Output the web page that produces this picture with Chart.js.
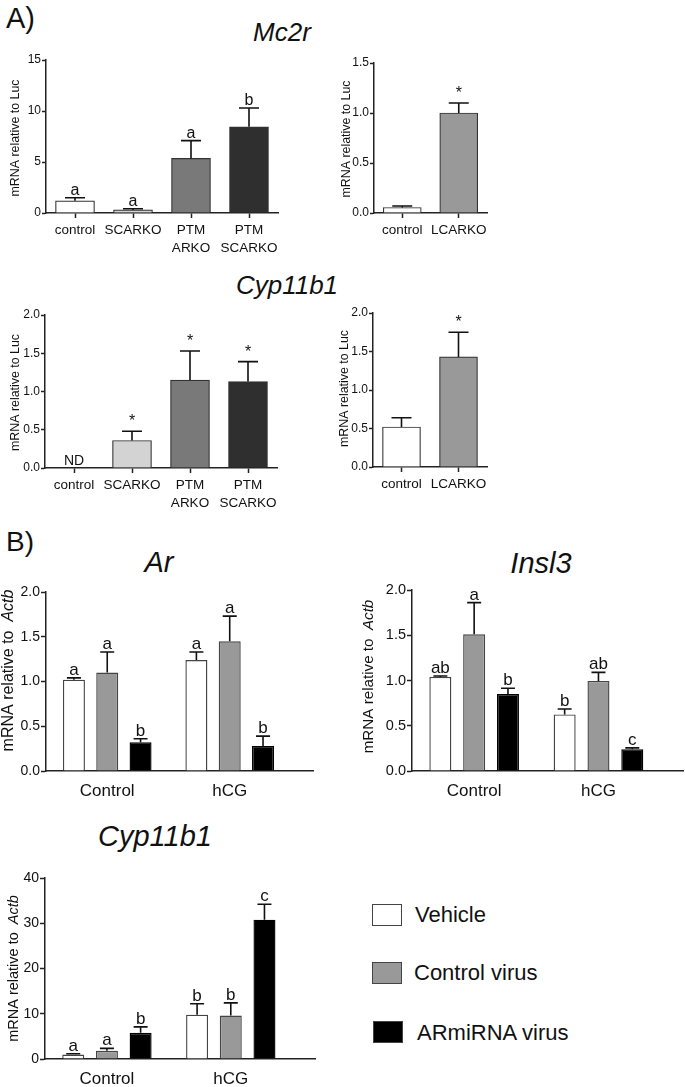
<!DOCTYPE html>
<html>
<head>
<meta charset="utf-8">
<script src="https://cdn.jsdelivr.net/npm/chart.js@4.4.1/dist/chart.umd.min.js"></script>
<style>
  body { margin: 0; background: #fff; width: 685px; height: 1087px; position: relative; overflow: hidden;
         font-family: "Liberation Sans", Arial, sans-serif; color: #111; }
  .box { position: absolute; }
  .t { position: absolute; line-height: 1; white-space: nowrap; }
  .it { font-style: italic; }
  .c { transform: translateX(-50%); }
  .sw { position: absolute; width: 28px; height: 20px; border: 1.5px solid #444; }
</style>
</head>
<body>
<div class="t" style="left:6px;top:4px;font-size:29px;">A)</div>
<div class="t it c" style="left:282px;top:19px;font-size:26px;">Mc2r</div>
<div class="t it c" style="left:287px;top:272px;font-size:26px;">Cyp11b1</div>
<div class="t" style="left:6px;top:528px;font-size:28px;">B)</div>
<div class="t it c" style="left:159px;top:548px;font-size:29px;">Ar</div>
<div class="t it c" style="left:541px;top:549px;font-size:29px;">Insl3</div>
<div class="t it c" style="left:155px;top:822px;font-size:29px;">Cyp11b1</div>

<div class="box" style="left:0;top:45px;width:290px;height:213px;"><canvas id="mc2r"></canvas></div>
<div class="box" style="left:330px;top:48px;width:167px;height:210px;"><canvas id="mc2rLc"></canvas></div>
<div class="box" style="left:0;top:300px;width:289px;height:213px;"><canvas id="cypA"></canvas></div>
<div class="box" style="left:330px;top:298px;width:167px;height:214px;"><canvas id="cypALc"></canvas></div>
<div class="box" style="left:0;top:577px;width:323px;height:229px;"><canvas id="ar"></canvas></div>
<div class="box" style="left:340px;top:575px;width:345px;height:231px;"><canvas id="insl3"></canvas></div>
<div class="box" style="left:0;top:863px;width:325px;height:224px;"><canvas id="cypB"></canvas></div>

<div class="sw" style="left:372px;top:904px;background:#fff;"></div>
<div class="t" style="left:415px;top:904px;font-size:22px;">Vehicle</div>
<div class="sw" style="left:372px;top:962px;background:#999;"></div>
<div class="t" style="left:414px;top:962px;font-size:22px;">Control virus</div>
<div class="sw" style="left:373px;top:1021px;background:#000;"></div>
<div class="t" style="left:417px;top:1022px;font-size:22px;">ARmiRNA virus</div>

<script>
// ---- Panel A data ----
const koCats = ['control', 'SCARKO', ['PTM', 'ARKO'], ['PTM', 'SCARKO']];
const lcCats = ['control', 'LCARKO'];

const mc2rMeans = [1.2, 0.3, 5.35, 8.45];
const mc2rErr = [1.5, 0.42, 7.1, 10.3];
const mc2rSig = ['a', 'a', 'a', 'b'];
const mc2rColors = ['#ffffff', '#d4d4d4', '#797979', '#2f2f2f'];

const mc2rLcMeans = [0.055, 1.0];
const mc2rLcErr = [0.07, 1.1];
const mc2rLcSig = ['', '*'];

const cypAMeans = [null, 0.36, 1.15, 1.13];
const cypAErr = [null, 0.48, 1.53, 1.39];
const cypASig = ['ND', '*', '*', '*'];

const cypALcMeans = [0.52, 1.43];
const cypALcErr = [0.64, 1.75];
const cypALcSig = ['', '*'];
const lcColors = ['#ffffff', '#999999'];

// ---- Panel B data (rows: Vehicle, Control virus, ARmiRNA virus; cols: Control, hCG) ----
const groups = ['Control', 'hCG'];
const treatments = ['Vehicle', 'Control virus', 'ARmiRNA virus'];
const treatColors = ['#ffffff', '#999999', '#000000'];

const arMeans = [[1.02, 1.24], [1.10, 1.45], [0.32, 0.28]];
const arErr = [[1.04, 1.33], [1.33, 1.73], [0.36, 0.39]];
const arSig = [['a', 'a'], ['a', 'a'], ['b', 'b']];

const insl3Means = [[1.04, 0.625], [1.51, 0.995], [0.85, 0.24]];
const insl3Err = [[1.05, 0.685], [1.86, 1.09], [0.915, 0.255]];
const insl3Sig = [['ab', 'b'], ['a', 'ab'], ['b', 'c']];

const cypBMeans = [[1.0, 9.8], [1.8, 9.6], [5.8, 30.8]];
const cypBErr = [[1.15, 12.2], [2.35, 12.4], [7.1, 34.2]];
const cypBSig = [['a', 'b'], ['a', 'b'], ['b', 'c']];

const FONT = '"Liberation Sans", Arial, sans-serif';
Chart.defaults.font.family = FONT;
Chart.defaults.color = '#111';
Chart.defaults.animation = false;

// error bars (upper only) and significance letters
const barNotes = {
  id: 'barNotes',
  afterDatasetsDraw(chart, args, opts) {
    const ctx = chart.ctx, ys = chart.scales.y;
    chart.data.datasets.forEach((ds, di) => {
      const meta = chart.getDatasetMeta(di);
      meta.data.forEach((bar, i) => {
        const raw = ds.data[i];
        const mean = raw && typeof raw === 'object' ? raw.y : raw;
        const err = ds.err[i];
        const cx = bar.x;
        let top = ys.getPixelForValue(mean == null ? 0 : mean);
        ctx.save();
        if (err != null) {
          const ey = ys.getPixelForValue(err);
          ctx.strokeStyle = '#111';
          ctx.lineWidth = opts.lw;
          ctx.beginPath();
          ctx.moveTo(cx, top);
          ctx.lineTo(cx, ey);
          ctx.moveTo(cx - opts.cap / 2, ey);
          ctx.lineTo(cx + opts.cap / 2, ey);
          ctx.stroke();
          top = ey;
        }
        const s = ds.sig[i];
        if (s) {
          ctx.fillStyle = '#111';
          ctx.textAlign = 'center';
          ctx.textBaseline = 'alphabetic';
          ctx.font = (s === 'ND' ? opts.ndSize : opts.size) + 'px ' + FONT;
          const off = s === '*' ? 5 : 3;
          ctx.fillText(s, cx, top - off);
        }
        ctx.restore();
      });
    });
  }
};

// rotated y title with optional italic part
const yTitle = {
  id: 'yTitle',
  afterDraw(chart, args, opts) {
    const ctx = chart.ctx, a = chart.chartArea;
    ctx.save();
    ctx.fillStyle = '#111';
    ctx.textBaseline = 'middle';
    ctx.textAlign = 'left';
    let total = 0;
    const widths = opts.parts.map(p => {
      ctx.font = (p.italic ? 'italic ' : '') + opts.size + 'px ' + FONT;
      const w = ctx.measureText(p.text).width;
      total += w;
      return w;
    });
    ctx.translate(opts.x, (a.top + a.bottom) / 2 + (opts.dy || 0));
    ctx.rotate(-Math.PI / 2);
    let x = -total / 2;
    opts.parts.forEach((p, i) => {
      ctx.font = (p.italic ? 'italic ' : '') + opts.size + 'px ' + FONT;
      ctx.fillText(p.text, x, 0);
      x += widths[i];
    });
    ctx.restore();
  }
};

function yAxis(max, step, dec, size, width, tickLen) {
  return {
    min: 0, max: max,
    afterFit: s => { s.width = width; },
    border: { color: '#222', width: 1.5 },
    grid: { drawOnChartArea: false, drawTicks: true, tickLength: tickLen, tickColor: '#222', tickWidth: 1.5 },
    ticks: { stepSize: step, padding: 1, font: { size: size }, color: '#111',
             callback: v => v.toFixed(dec) }
  };
}

function koChart(id, cats, means, errs, sigs, colors, max, step, dec, o) {
  return new Chart(document.getElementById(id), {
    type: 'bar',
    data: {
      labels: cats,
      datasets: [{ data: means, err: errs, sig: sigs, backgroundColor: colors,
                   borderColor: '#333', borderWidth: 1.2, barThickness: o.bw }]
    },
    options: {
      responsive: true, maintainAspectRatio: false,
      layout: { padding: { top: 15, right: o.right, left: 0, bottom: 0 } },
      plugins: {
        legend: { display: false }, tooltip: { enabled: false },
        barNotes: { lw: 1.6, cap: o.cap, size: 16, ndSize: 14 },
        yTitle: { parts: [{ text: 'mRNA relative to Luc' }], size: 12.4, x: o.tx, dy: o.dy }
      },
      scales: {
        x: {
          afterFit: s => { s.height = 45; },
          border: { color: '#222', width: 1.5 },
          grid: { offset: false, drawOnChartArea: false, drawTicks: true, tickLength: 5, tickColor: '#222', tickWidth: 1.5 },
          ticks: { padding: 3, font: { size: 13.5, lineHeight: 1.35 }, color: '#111', maxRotation: 0, autoSkip: false }
        },
        y: yAxis(max, step, dec, 12, o.yw, 4)
      }
    },
    plugins: [barNotes, yTitle]
  });
}

const OFFS = [-0.272, 0, 0.272];

function groupChart(id, means, errs, sigs, max, step, dec, o) {
  return new Chart(document.getElementById(id), {
    type: 'bar',
    data: {
      datasets: treatments.map((t, ti) => ({
        label: t,
        data: groups.map((g, gi) => ({ x: gi + 1 + OFFS[ti], y: means[ti][gi] })),
        err: errs[ti], sig: sigs[ti],
        backgroundColor: treatColors[ti],
        borderColor: ti === 2 ? '#000' : '#444', borderWidth: 1.4,
        maxBarThickness: 22
      }))
    },
    options: {
      responsive: true, maintainAspectRatio: false,
      grouped: false,
      layout: { padding: { top: 15, right: o.right, left: 0, bottom: 0 } },
      plugins: {
        legend: { display: false }, tooltip: { enabled: false },
        barNotes: { lw: 1.6, cap: 14, size: 17, ndSize: 14 },
        yTitle: { parts: [{ text: 'mRNA relative to  ' }, { text: 'Actb', italic: true }],
                  size: o.ts, x: o.tx, dy: o.dy }
      },
      scales: {
        x: {
          type: 'linear', min: 0.5, max: 2.68, offset: false,
          afterFit: s => { s.height = o.xh; },
          afterBuildTicks: s => { s.ticks = groups.map((g, i) => ({ value: i + 1 })); },
          border: { color: '#222', width: 1.5 },
          grid: { display: false, drawTicks: false },
          ticks: { padding: 10, font: { size: 17 }, color: '#111', maxRotation: 0,
                   callback: v => groups[v - 1] }
        },
        y: yAxis(max, step, dec, o.ys, o.yw, 5)
      }
    },
    plugins: [barNotes, yTitle]
  });
}

koChart('mc2r', koCats, mc2rMeans, mc2rErr, mc2rSig, mc2rColors, 15, 5, 0,
        { bw: 39, cap: 20, right: 12, yw: 46, tx: 16, dy: 1.5 });
koChart('mc2rLc', lcCats, mc2rLcMeans, mc2rLcErr, mc2rLcSig, lcColors, 1.5, 0.5, 1,
        { bw: 38, cap: 20, right: 10, yw: 44, tx: 16.5, dy: 1 });
koChart('cypA', koCats, cypAMeans, cypAErr, cypASig, ['#ffffff', '#d3d3d3', '#797979', '#2f2f2f'], 2, 0.5, 1,
        { bw: 39, cap: 20, right: 12, yw: 45, tx: 16, dy: 1 });
koChart('cypALc', lcCats, cypALcMeans, cypALcErr, cypALcSig, lcColors, 2, 0.5, 1,
        { bw: 38, cap: 20, right: 10, yw: 43, tx: 15, dy: -1.5 });

groupChart('ar', arMeans, arErr, arSig, 2, 0.5, 1,
           { right: 10, yw: 46, xh: 35, ys: 14, ts: 16, tx: 9, dy: -11 });
groupChart('insl3', insl3Means, insl3Err, insl3Sig, 2, 0.5, 1,
           { right: 2, yw: 72, xh: 35, ys: 14.5, ts: 15.2, tx: 28.5, dy: -4 });
groupChart('cypB', cypBMeans, cypBErr, cypBSig, 40, 10, 0,
           { right: 10, yw: 45, xh: 28, ys: 14, ts: 14.5, tx: 13.5, dy: 0 });
</script>
</body>
</html>
